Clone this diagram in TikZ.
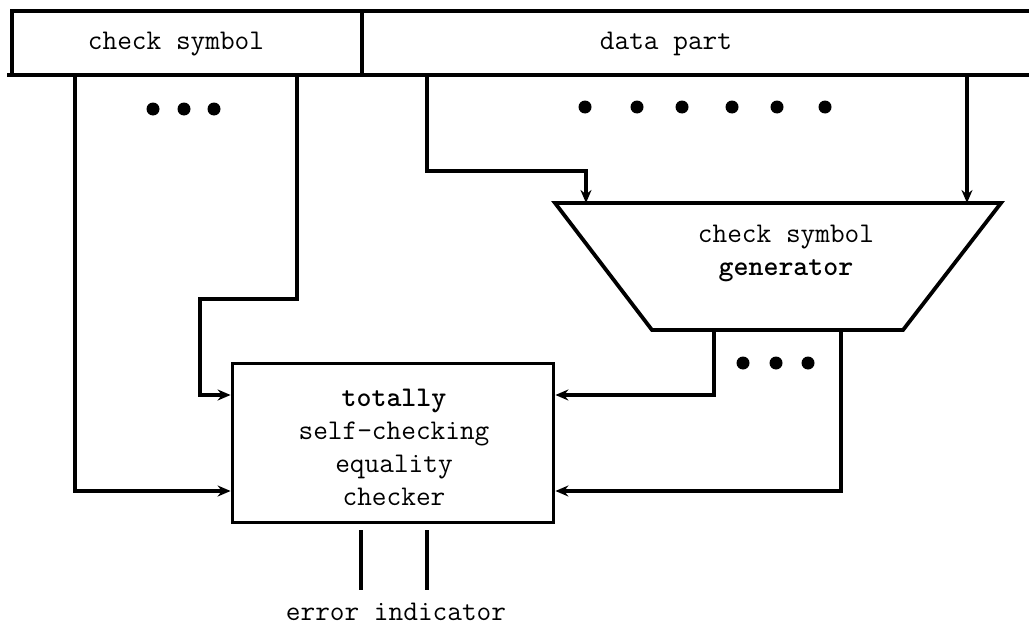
\documentclass[tikz,border=0pt]{standalone}
\usepackage{fontspec}
\usetikzlibrary{arrows.meta}
\tikzset{
  wire/.style={line width=3.8pt},
  arr/.style={wire,-{Stealth[length=13pt,width=11pt]}},
  lbl/.style={font=\fontsize{28.5}{33}\selectfont\ttfamily, inner sep=0pt, align=center},
  blk/.style={draw,line width=3.8pt},
  dot/.style={circle,fill=black,inner sep=0pt,minimum size=13pt}
}
\begin{document}
\begin{tikzpicture}[x=1pt,y=-1pt]
\useasboundingbox (0,0) rectangle (1029,629);
% top bar
\coordinate (barTL) at (12,11);
\coordinate (barTR) at (1029,11);
\coordinate (barBL) at (7,75);
\coordinate (barBR) at (1029,75);
\coordinate (divT) at (362,11);
\coordinate (divB) at (362,75);
\draw[wire] (barBL -| barTL) -- (barTL) -- (barTR);
\draw[wire] (barBL) -- (barBR);
\draw[wire] (divT) -- (divB);
\node[lbl] (cs) at (176,44) {check symbol};
\node[lbl] (dp) at (666,44) {data part};
% dots
\foreach \x [count=\i] in {153,184,214} \node[dot] (d\i) at (\x,109) {};
\foreach \x [count=\i] in {585,637,682,732,777,825} \node[dot] (e\i) at (\x,107) {};
\foreach \x [count=\i] in {743,776,808} \node[dot] (f\i) at (\x,363) {};
% checker
\node[blk, minimum width=321pt, minimum height=159pt, inner sep=0pt] (chk) at (393,443) {};
\node[lbl] (chktxt) at (394,447) {\textbf{totally}\\self-checking\\ equality\\checker};
% generator trapezoid
\coordinate (gTL) at (555,203);
\coordinate (gTR) at (1001,203);
\coordinate (gBR) at (903,330);
\coordinate (gBL) at (652,330);
\draw[blk,line join=miter] (gTL) -- (gTR) -- (gBR) -- (gBL) -- cycle;
\node[lbl] (gen) at (786,253) {check symbol\\\textbf{generator}};
% connectors from check symbol
\coordinate (c1) at (75,75);
\coordinate (c2) at (297,75);
\draw[arr] (c1) |- (chk.west |- 0,491);
\draw[arr] (c2) |- (200,299) |- (chk.west |- 0,395);
% data part to generator
\coordinate (p1) at (427,75);
\coordinate (p2) at (967,75);
\draw[arr] (p1) |- (586,171) -- (586,203);
\draw[arr] (p2) -- (p2 |- gTR);
% generator to checker
\coordinate (q1) at (714,330);
\coordinate (q2) at (841,330);
\draw[arr] (q1) |- (chk.east |- 0,395);
\draw[arr] (q2) |- (chk.east |- 0,491);
% outputs
\coordinate (o1) at (361,530);
\coordinate (o2) at (427,530);
\draw[wire] (o1) -- (361,590);
\draw[wire] (o2) -- (427,590);
\node[lbl] (err) at (396,612) {error indicator};
\end{tikzpicture}
\end{document}
